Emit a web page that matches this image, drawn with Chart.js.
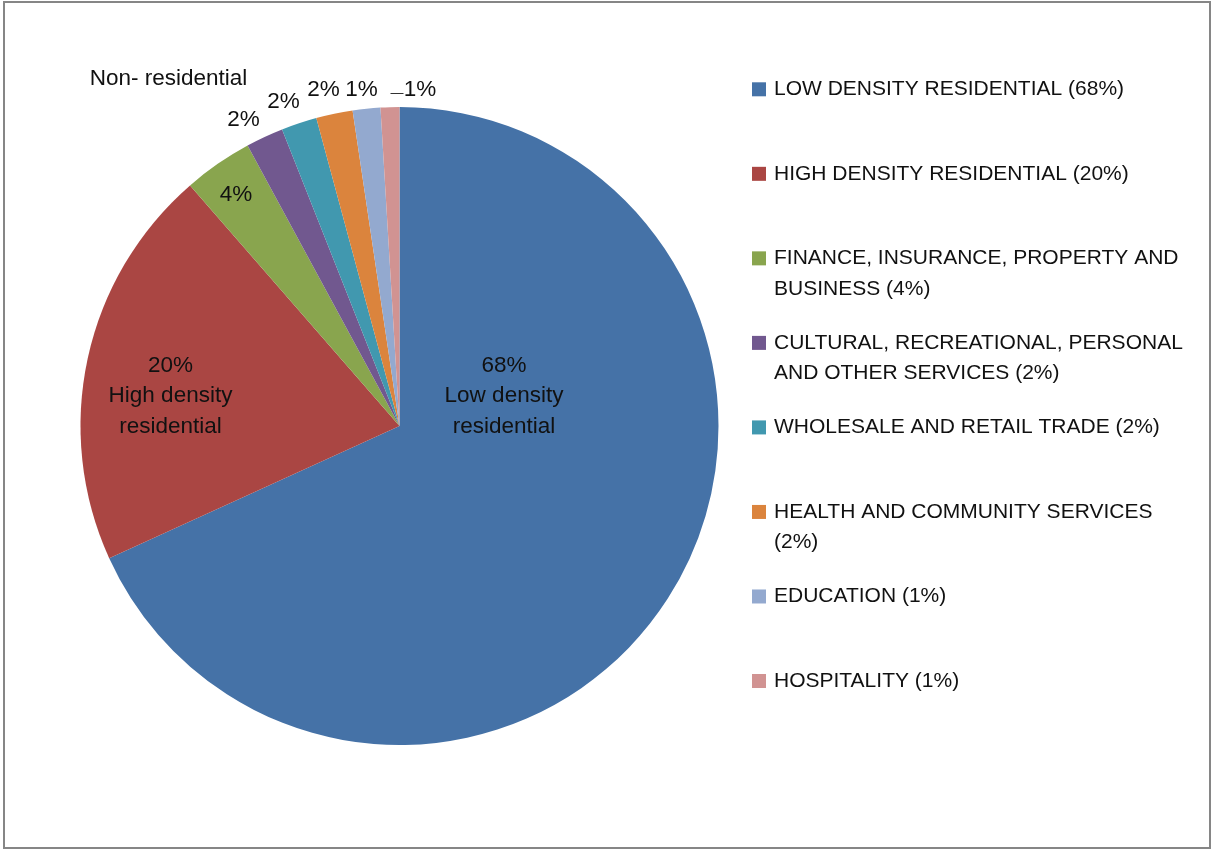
<!DOCTYPE html>
<html>
<head>
<meta charset="utf-8">
<script src="https://cdn.jsdelivr.net/npm/chart.js@4/dist/chart.umd.min.js"></script>
<style>
  html, body { margin: 0; padding: 0; background: #fff; }
  #c { display: block; }
</style>
</head>
<body>
<canvas id="c" width="1211" height="850"></canvas>
<script>
// ---- data ----
const categories = [
  "Low density residential",
  "High density residential",
  "Finance, insurance, property and business",
  "Cultural, recreational, personal and other services",
  "Wholesale and retail trade",
  "Health and community services",
  "Education",
  "Hospitality"
];
const legendNames = [
  "LOW DENSITY RESIDENTIAL",
  "HIGH DENSITY RESIDENTIAL",
  "FINANCE, INSURANCE, PROPERTY AND\nBUSINESS",
  "CULTURAL, RECREATIONAL, PERSONAL\nAND OTHER SERVICES",
  "WHOLESALE AND RETAIL TRADE",
  "HEALTH AND COMMUNITY SERVICES\n",
  "EDUCATION",
  "HOSPITALITY"
];
const shares = [68.2, 20.4, 3.5, 1.9, 1.8, 1.85, 1.4, 0.95];
const sliceNames = ["Low density\nresidential", "High density\nresidential", "", "", "", "", "", ""];
const groupLabel = "Non- residential";
const colors = ["#4572A7", "#AA4643", "#89A54E", "#71588F", "#4198AF", "#DB843D", "#93A9CF", "#D19392"];

const total = shares.reduce((a, b) => a + b, 0);
const pct = v => Math.round(v / total * 100) + "%";

// label offsets from pie centre (layout only)
const labelOffsets = [
  [104.5, -30], [-229, -30], [-163.5, -231], [-156, -306],
  [-116, -324.3], [-76, -336.7], [-38, -336.7], [20.5, -336.7]
];

const FONT = '21px "Liberation Sans", Arial, sans-serif';
const LFONT = '22.5px "Liberation Sans", Arial, sans-serif';

const decor = {
  id: 'decor',
  afterDraw(chart) {
    const ctx = chart.ctx;
    ctx.save();
    // frame
    ctx.strokeStyle = '#868686';
    ctx.lineWidth = 2;
    ctx.strokeRect(4, 2, 1206, 846);

    const arcs = chart.getDatasetMeta(0).data;
    const cx = arcs[0].x, cy = arcs[0].y;
    ctx.fillStyle = '#111';
    ctx.font = LFONT;
    ctx.textAlign = 'center';
    ctx.textBaseline = 'middle';
    arcs.forEach((a, i) => {
      const lines = [pct(shares[i])].concat(sliceNames[i] ? sliceNames[i].split("\n") : []);
      const [ox, oy] = labelOffsets[i];
      const lh = 30.5;
      const startY = cy + oy - (lines.length - 1) * lh / 2;
      lines.forEach((t, k) => ctx.fillText(t, cx + ox, startY + k * lh));
    });
    // leader for last slice
    ctx.strokeStyle = '#333';
    ctx.lineWidth = 1;
    ctx.beginPath();
    ctx.moveTo(cx - 9, cy - 332.5);
    ctx.lineTo(cx + 4, cy - 332.5);
    ctx.stroke();
    // group label
    ctx.fillText(groupLabel, cx - 231, cy - 347.7);

    // legend
    ctx.font = FONT;
    ctx.textAlign = 'left';
    legendNames.forEach((name, i) => {
      const y0 = 89.3 + i * 84.53;
      ctx.fillStyle = colors[i];
      ctx.fillRect(752, y0 - 7, 14, 14);
      ctx.fillStyle = '#111';
      const parts = name.split("\n");
      const last = parts.length - 1;
      parts[last] = parts[last] + (parts[last] ? " " : "") + "(" + pct(shares[i]) + ")";
      parts.forEach((t, k) => ctx.fillText(t, 774, y0 + k * 30.5));
    });
    ctx.restore();
  }
};

new Chart(document.getElementById('c'), {
  type: 'pie',
  data: {
    labels: categories,
    datasets: [{
      data: shares,
      backgroundColor: colors,
      borderWidth: 0,
      hoverOffset: 0
    }]
  },
  options: {
    responsive: false,
    animation: false,
    events: [],
    layout: { padding: { left: 80.5, right: 492.5, top: 107, bottom: 105 } },
    plugins: { legend: { display: false }, tooltip: { enabled: false } }
  },
  plugins: [decor]
});
</script>
</body>
</html>
